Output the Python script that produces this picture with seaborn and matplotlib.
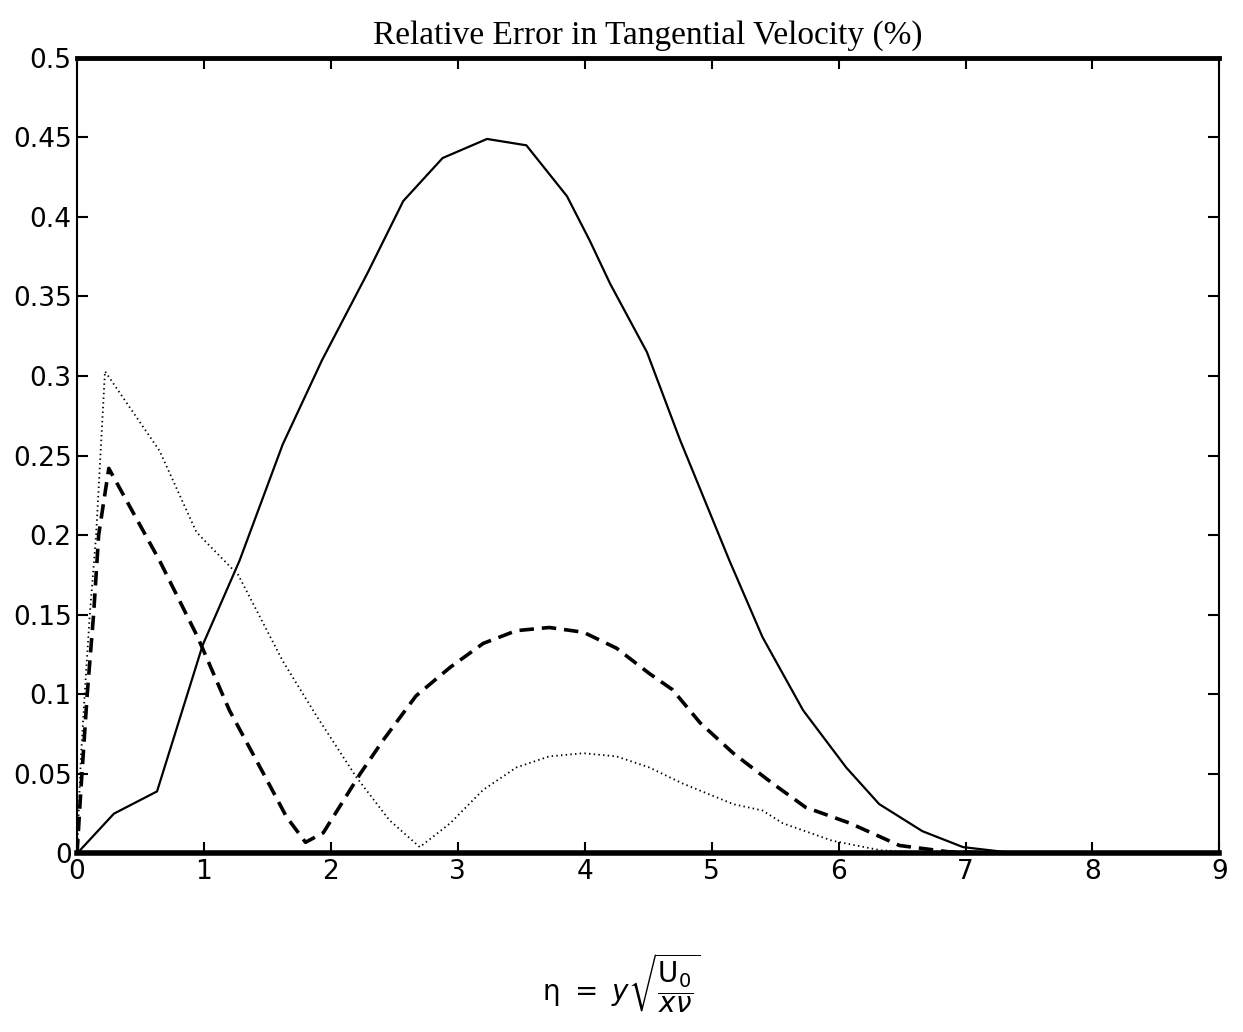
import numpy as np
import pandas as pd
import matplotlib
matplotlib.use("Agg")
import matplotlib.pyplot as plt
import seaborn as sns

# values
solid_x = [0, 0.29, 0.63, 0.99, 1.28, 1.62, 1.93, 2.29, 2.57, 2.88, 3.23, 3.54, 3.86,
           4.04, 4.20, 4.49, 4.75, 5.14, 5.40, 5.72, 6.06, 6.32, 6.66, 6.98, 7.30, 7.70, 8.3, 9.0]
solid_y = [0, 0.025, 0.039, 0.131, 0.184, 0.257, 0.310, 0.365, 0.410, 0.437, 0.449, 0.445, 0.413,
           0.385, 0.358, 0.315, 0.260, 0.184, 0.136, 0.090, 0.054, 0.031, 0.014, 0.004, 0.001, 0.0, 0.0, 0.0]

dashed_x = [0, 0.03, 0.08, 0.13, 0.17, 0.25, 0.65, 0.95, 1.20, 1.47, 1.65, 1.80, 1.94, 2.23,
            2.41, 2.67, 2.94, 3.20, 3.46, 3.72, 3.99, 4.25, 4.51, 4.69, 4.91, 5.17, 5.48,
            5.74, 6.09, 6.48, 6.87, 7.50, 9.0]
dashed_y = [0, 0.04, 0.10, 0.15, 0.20, 0.242, 0.184, 0.136, 0.090, 0.050, 0.023, 0.007, 0.013, 0.050,
            0.071, 0.099, 0.117, 0.132, 0.140, 0.142, 0.139, 0.129, 0.113, 0.103, 0.082, 0.063, 0.044,
            0.029, 0.019, 0.005, 0.001, 0.0, 0.0]

dotted_x = [0, 0.03, 0.06, 0.10, 0.15, 0.22, 0.65, 0.94, 1.00, 1.27, 1.62, 1.89, 2.20, 2.46,
            2.70, 2.94, 3.20, 3.46, 3.72, 3.99, 4.25, 4.51, 4.77, 5.17, 5.40, 5.56, 5.95, 6.33,
            6.80, 9.0]
dotted_y = [0, 0.06, 0.10, 0.15, 0.20, 0.303, 0.253, 0.202, 0.197, 0.175, 0.121, 0.086, 0.048, 0.021,
            0.004, 0.019, 0.040, 0.054, 0.061, 0.063, 0.061, 0.054, 0.044, 0.031, 0.027, 0.019, 0.008, 0.002,
            0.0, 0.0]

x_ticks = list(range(0, 10))
y_ticks = [0, 0.05, 0.1, 0.15, 0.2, 0.25, 0.3, 0.35, 0.4, 0.45, 0.5]
y_tick_labels = ["0", "0.05", "0.1", "0.15", "0.2", "0.25", "0.3", "0.35", "0.4", "0.45", "0.5"]

sns.set_style("ticks")
plt.rcParams["font.family"] = ["DejaVu Sans"]

fig = plt.figure(figsize=(12.43, 10.32), dpi=100)
ax = fig.add_axes([0.062, 0.173, 0.919, 0.771])

# 3本の曲線
df_solid = pd.DataFrame({"eta": solid_x, "err": solid_y})
df_dash = pd.DataFrame({"eta": dashed_x, "err": dashed_y})
df_dot = pd.DataFrame({"eta": dotted_x, "err": dotted_y})

sns.lineplot(data=df_solid, x="eta", y="err", ax=ax, color="black", lw=1.6, sort=False)
l2 = sns.lineplot(data=df_dash, x="eta", y="err", ax=ax, color="black", lw=2.6, sort=False).lines[-1]
l2.set_dashes([4, 2.2])
l3 = sns.lineplot(data=df_dot, x="eta", y="err", ax=ax, color="black", lw=1.3, sort=False).lines[-1]
l3.set_dashes([0.8, 1.8])

ax.set_xlim(0, 9)
ax.set_ylim(0, 0.5)
ax.set_xticks(x_ticks)
ax.set_xticklabels([str(t) for t in x_ticks])
ax.set_yticks(y_ticks)
ax.set_yticklabels(y_tick_labels)
ax.tick_params(direction="in", length=8, width=1.5, labelsize=19, top=True, right=True,
               colors="black", pad=4)

for side in ["top", "bottom", "left", "right"]:
    ax.spines[side].set_visible(True)
    ax.spines[side].set_color("black")
ax.spines["bottom"].set_linewidth(4)
ax.spines["top"].set_linewidth(3.5)
ax.spines["left"].set_linewidth(1.5)
ax.spines["right"].set_linewidth(1.5)

ax.set_xlabel("")
ax.set_ylabel("")
ax.set_title("Relative Error in Tangential Velocity (%)", family="Liberation Serif",
             fontsize=24, pad=10, color="black")
fig.text(0.5, 0.048, r"$\mathrm{\eta}\ =\ y\sqrt{\dfrac{\mathrm{U}_0}{x\nu}}$",
         ha="center", va="center", fontsize=20, color="black")

fig.savefig("out.png", dpi=100, facecolor="white")
